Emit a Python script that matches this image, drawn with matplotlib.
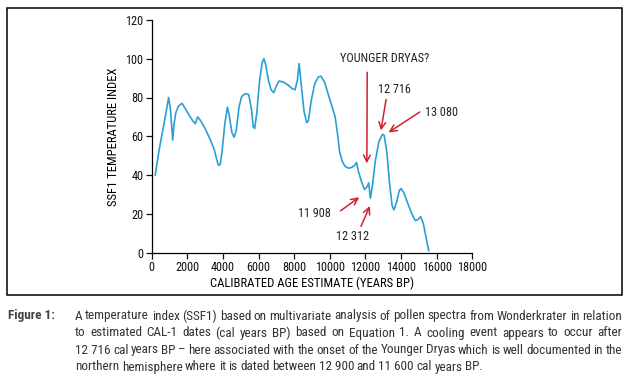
import matplotlib
matplotlib.use("Agg")
import matplotlib.pyplot as plt
from matplotlib import font_manager as fm
from matplotlib.patches import Rectangle

# the journal uses a narrow sans; take a condensed face if one is installed
narrow = None
for fam, stretch_ok in [("Liberation Sans Narrow", None), ("Roboto Condensed", None),
                        ("DejaVu Sans", "condensed"), ("Roboto", "condensed"),
                        ("Open Sans", "condensed"), ("Noto Sans", "condensed")]:
    for f in fm.fontManager.ttflist:
        if f.name == fam and (stretch_ok is None or f.stretch == stretch_ok):
            narrow = (fam, stretch_ok or "normal")
            break
    if narrow:
        break
if narrow:
    plt.rcParams['font.family'] = [narrow[0], 'DejaVu Sans']
    plt.rcParams['font.stretch'] = narrow[1]
else:
    plt.rcParams['font.family'] = ['DejaVu Sans']

# SSF1 temperature index vs calibrated age
age = [200, 400, 600, 800, 950, 1050, 1180, 1250, 1350, 1500, 1700, 1900, 2100,
       2300, 2450, 2580, 2750, 3000, 3250, 3500, 3650, 3750, 3850, 3950, 4100,
       4250, 4350, 4500, 4620, 4750, 4900, 5050, 5250, 5450, 5600, 5700, 5780,
       5900, 6050, 6200, 6300, 6400, 6550, 6700, 6850, 7000, 7150, 7400, 7650,
       7900, 8050, 8180, 8280, 8380, 8550, 8700, 8800, 8950, 9150, 9350, 9500,
       9700, 9900, 10100, 10300, 10450, 10550, 10700, 10850, 11050, 11250,
       11400, 11500, 11600, 11800, 11950, 12100, 12180, 12280, 12400, 12550,
       12750, 12950, 13050, 13200, 13350, 13500, 13600, 13750, 13900, 14000,
       14150, 14350, 14600, 14800, 14950, 15100, 15250, 15400, 15550]
ssf1 = [40, 52, 62, 72, 80, 74, 58, 66, 72, 75.5, 77, 74, 71,
        68, 66.5, 70, 68, 64, 59, 53.5, 48, 45, 45.5, 52, 66,
        75, 71, 62, 59.5, 63, 75, 80.5, 82, 81.5, 74, 65, 64,
        72, 88, 98, 100, 97, 89, 84, 82.5, 86, 88.5, 88, 86.5,
        84.5, 84, 89, 97.5, 88, 73, 67, 68, 78, 87, 90.5, 91,
        88, 82, 76, 70, 60, 52, 47, 44.5, 43.5, 44,
        45, 46.5, 42, 36, 32.5, 34, 36, 28, 35, 47,
        57, 61, 60.5, 52, 36, 24, 22, 26, 32, 33,
        31, 26, 20, 16.5, 17, 18.5, 15, 8, 1]

xticks = [0, 2000, 4000, 6000, 8000, 10000, 12000, 14000, 16000, 18000]
yticks = [0, 20, 40, 60, 80, 100, 120]

# annotations: label, text position, arrow start, arrow tip
notes = [
    ("YOUNGER DRYAS?", (13100, 100), (12100, 93), (12080, 46)),
    ("12 716", (13650, 84), (13160, 79), (12870, 63)),
    ("13 080", (16250, 72.5), (15050, 72.5), (13300, 62)),
    ("11 908", (9150, 20), (10600, 21.5), (11650, 28.5)),
    ("12 312", (11300, 8), (11750, 13.5), (12250, 24)),
]

caption = [
    "A temperature index (SSF1) based on multivariate analysis of pollen spectra from Wonderkrater in relation",
    "to estimated CAL-1 dates (cal years BP) based on Equation 1. A cooling event appears to occur after",
    "12\u00a0716 cal years BP \u2013 here associated with the onset of the Younger Dryas which is well documented in the",
    "northern hemisphere where it is dated between 12\u00a0900 and 11\u00a0600 cal years BP.",
]

W, H = 636, 381
fig = plt.figure(figsize=(W / 100, H / 100), dpi=100)
ax = fig.add_axes([151.7 / W, 1 - 252.5 / H, (472.3 - 151.7) / W, (252.5 - 20) / H])

ax.plot(age, ssf1, color="#2a9fd6", lw=1.2)

red = "#d0202e"
for label, tpos, start, tip in notes:
    ax.annotate("", xy=tip, xytext=start,
                arrowprops=dict(arrowstyle="->", color=red, lw=1.1,
                                mutation_scale=12, shrinkA=0, shrinkB=0))
    ax.text(tpos[0], tpos[1], label, ha="center", va="center", fontsize=8.8,
            color="#222222")

ax.set_xlim(0, 18000)
ax.set_ylim(0, 120)
ax.set_xticks(xticks)
ax.set_yticks(yticks)
ax.tick_params(labelsize=8.8, length=4, width=0.9, pad=2, colors="#111111")
for s in ["top", "right"]:
    ax.spines[s].set_visible(False)
for s in ["left", "bottom"]:
    ax.spines[s].set_linewidth(0.9)
ax.set_xlabel("CALIBRATED AGE ESTIMATE (YEARS BP)", fontsize=9.1, labelpad=2)
ax.set_ylabel("SSF1 TEMPERATURE INDEX", fontsize=9.1, labelpad=4)

# outer frame around the chart
fig.patches.append(Rectangle((7 / W, 1 - 295 / H), (622 - 7) / W, (295 - 8) / H,
                             transform=fig.transFigure, fill=False,
                             edgecolor="black", lw=1.1))

# caption, justified like the journal layout
renderer = fig.canvas.get_renderer()
x0, x1 = 75, 622


def word_widths(line, size):
    out = []
    for w in line.split(" "):
        t = fig.text(0, 0, w, fontsize=size)
        out.append(t.get_window_extent(renderer).width)
        t.remove()
    return out


def space_width(size):
    sp = fig.text(0, 0, "a a", fontsize=size)
    sa = fig.text(0, 0, "aa", fontsize=size)
    s = sp.get_window_extent(renderer).width - sa.get_window_extent(renderer).width
    sp.remove()
    sa.remove()
    return s


# largest caption font for which every line fits with slightly tight spacing
cap_size = 11.0
while cap_size > 5:
    sp_w = space_width(cap_size)
    ok = True
    for line in caption[:3]:
        ww = word_widths(line, cap_size)
        if sum(ww) + (len(ww) - 1) * sp_w * 0.7 > (x1 - x0):
            ok = False
            break
    if ok:
        break
    cap_size -= 0.1
space = space_width(cap_size)

fig.text(8 / W, 1 - 316 / H, "Figure 1:", fontsize=cap_size, fontweight="bold",
         color="#444444", va="center")
for i, line in enumerate(caption):
    y = 1 - (316 + 17 * i) / H
    words = line.split(" ")
    texts = [fig.text(0, y, w, fontsize=cap_size, color="#333333", va="center")
             for w in words]
    widths = [t.get_window_extent(renderer).width for t in texts]
    if i < len(caption) - 1:
        gap = (x1 - x0 - sum(widths)) / (len(words) - 1)
    else:
        gap = space * 0.85
    x = x0
    for t, w in zip(texts, widths):
        t.set_x(x / W)
        x += w + gap

fig.savefig("out.png", dpi=100)
